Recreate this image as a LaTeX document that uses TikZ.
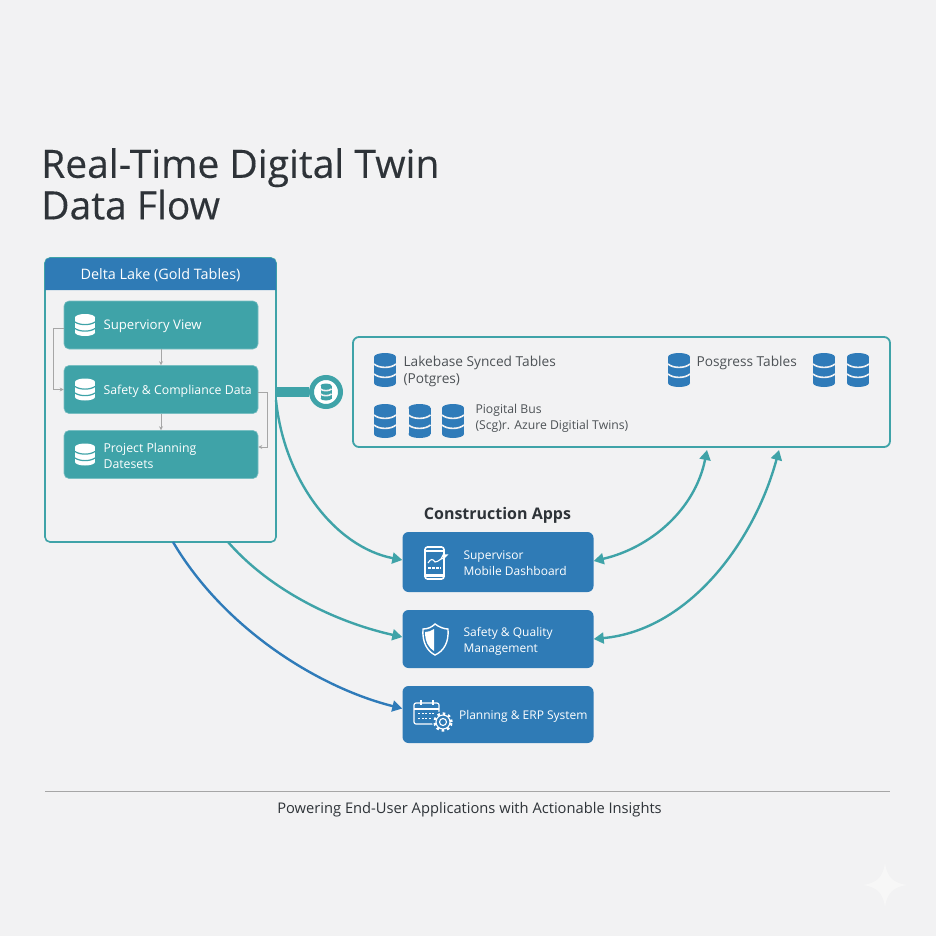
\documentclass[tikz,border=0pt]{standalone}
\usepackage{fontspec}
\setmainfont{Open Sans}
\usepackage{xcolor}
\usepackage{tikz}
\usetikzlibrary{arrows.meta}
\definecolor{paper}{HTML}{F2F2F3}
\definecolor{tealbox}{HTML}{3FA3A8}
\definecolor{tealline}{HTML}{3FA3A8}
\definecolor{bluebox}{HTML}{2F7BB6}
\definecolor{blueicon}{HTML}{2F7BB9}
\definecolor{inkdark}{HTML}{2E3338}
\tikzset{
  tablebox/.style={fill=tealbox, draw=tealbox!70!white, line width=0.6pt, rounded corners=5pt, minimum width=194pt, minimum height=48pt},
  appbox/.style={fill=bluebox, rounded corners=6pt, minimum width=191pt},
  boxtext/.style={text=white, anchor=west, align=left, font=\fontsize{12.3}{16}\selectfont},
  lakelabel/.style={text=inkdark!85!white, anchor=west, align=left, font=\fontsize{13.7}{17}\selectfont},
  smallflow/.style={draw=black!35, line width=0.6pt, -{Stealth[length=4pt,width=4pt]}},
  flowline/.style={draw=tealline, line width=2.4pt, -{Triangle[length=10pt,width=11pt]}},
  twoway/.style={draw=tealline, line width=2.4pt, {Triangle[length=10pt,width=11pt]}-{Triangle[length=10pt,width=11pt]}},
  pics/dbstack/.style={code={
    \fill[#1] (-11,-13) rectangle (11,13);
    \fill[#1] (0,-13) ellipse (11 and 4);
    \fill[#1] (0,13) ellipse (11 and 4);
    \draw[paper, line width=1.6pt] (-11,-6) .. controls (-6,-1.5) and (6,-1.5) .. (11,-6);
    \draw[paper, line width=1.6pt] (-11,4) .. controls (-6,8.5) and (6,8.5) .. (11,4);
  }},
  pics/dbsmall/.style={code={
    \fill[white] (-10,-7.5) rectangle (10,7.5);
    \fill[white] (0,-7.5) ellipse (10 and 3.5);
    \fill[white] (0,7.5) ellipse (10 and 3.5);
    \draw[tealbox, line width=1.2pt] (-10,-3) .. controls (-5,0.5) and (5,0.5) .. (10,-3);
    \draw[tealbox, line width=1.2pt] (-10,3.5) .. controls (-5,7) and (5,7) .. (10,3.5);
  }}
}
\begin{document}
\begin{tikzpicture}[x=1pt, y=-1pt]
  \useasboundingbox (0,0) rectangle (936,936);
  \fill[paper] (0,0) rectangle (936,936);

  % title
  \node[anchor=north west, align=left, text=inkdark, inner sep=0pt, font=\addfontfeature{FakeBold=0.25}\fontsize{39}{41.5}\selectfont] (title) at (41,148) {Real-Time Digital Twin\\Data Flow};

  % gold tables
  \node[draw=tealline, line width=1.6pt, fill=paper, rounded corners=5pt, minimum width=231pt, minimum height=284pt] (deltalake) at (160.5,400) {};
  \fill[bluebox] (45,290) [rounded corners=5pt] -- (45,258) -- (276,258) [sharp corners] -- (276,290) -- cycle;
  \node[text=white, font=\fontsize{14.4}{16}\selectfont] (deltahead) at (160.5,275) {Delta Lake (Gold Tables)};

  \node[tablebox] (supview) at (161,325) {};
  \node[tablebox] (safety) at (161,389.5) {};
  \node[tablebox] (planning) at (161,454.5) {};
  \pic at (85,325) {dbsmall};
  \pic at (85,389.5) {dbsmall};
  \pic at (85,454.5) {dbsmall};
  \node[boxtext, font=\fontsize{13.2}{16}\selectfont] (supviewtext) at (100,326) {Superviory View};
  \node[boxtext] (safetytext) at (100,391) {Safety \& Compliance Data};
  \node[boxtext] (planningtext) at (100,456) {Project Planning\\Datesets};

  \draw[smallflow] (supview) -- (safety);
  \draw[smallflow] (safety) -- (planning);
  \draw[smallflow] ([yshift=-3pt]supview.west) -- ++(-10,0) |- (safety.west);
  \draw[smallflow] ([yshift=-2.5pt]safety.east) -- ++(9,0) |- ([yshift=7.5pt]planning.east);

  % lakebase
  \node[draw=tealline, line width=1.8pt, fill=paper, rounded corners=6pt, minimum width=537pt, minimum height=110pt] (lakebase) at (621.5,392) {};
  \pic at (385,370) {dbstack={blueicon}};
  \pic at (679,370) {dbstack={blueicon}};
  \pic at (824,370) {dbstack={blueicon}};
  \pic at (858,370) {dbstack={blueicon}};
  \pic at (385,421) {dbstack={blueicon}};
  \pic at (419.5,421) {dbstack={blueicon}};
  \pic at (453,421) {dbstack={blueicon}};
  \node[lakelabel] (syncedtext) at (400,371.5) {Lakebase Synced Tables\\(Potgres)};
  \node[lakelabel] (posgresstext) at (693,363) {Posgress Tables};
  \node[lakelabel, font=\fontsize{12.2}{16}\selectfont] (bustext) at (472,418) {Piogital Bus\\(Scg)r. Azure Digitial Twins)};

  % link between the two stores
  \node[circle, fill=white, draw=tealline, line width=5pt, minimum size=29pt, inner sep=0pt] (linkdot) at (326,392) {};
  \pic[scale=0.5] at (326,392) {dbstack={tealline}};
  \draw[tealline, line width=10pt] (deltalake.east |- linkdot) -- (linkdot.west);

  % apps
  \node[font=\bfseries\fontsize{16}{20}\selectfont, text=inkdark] (appstitle) at (497.5,515) {Construction Apps};
  \node[appbox, minimum height=60pt] (mobile) at (498,562) {};
  \node[appbox, minimum height=58pt] (quality) at (498,639) {};
  \node[appbox, minimum height=57pt] (erp) at (498,714.5) {};
  \node[boxtext, font=\fontsize{12}{16}\selectfont] (mobiletext) at (460,563.5) {Supervisor\\Mobile Dashboard};
  \node[boxtext, font=\fontsize{12}{16}\selectfont] (qualitytext) at (460,641) {Safety \& Quality\\Management};
  \node[boxtext, font=\fontsize{12}{16}\selectfont] (erptext) at (455.5,716) {Planning \& ERP System};

  % phone
  \draw[white, line width=1.6pt, rounded corners=2.5pt] (425,547) rectangle (444,579);
  \draw[white, line width=1.4pt] (425,551) -- (444,551);
  \draw[white, line width=2.4pt] (425,575.5) -- (444,575.5);
  \draw[white, line width=1.1pt] (428,563) .. controls (431,558) and (433,559) .. (435,562) .. controls (437,563) and (438,560) .. (441,559);
  \draw[white, line width=1.1pt] (441,559) -- (444,558) -- (447,555) -- (443,555) -- cycle;
  \draw[white, line width=1.2pt, dash pattern=on 3pt off 1pt] (428,568) -- (441,568);

  % shield
  \fill[white] (434,629) .. controls (431,631) and (428,632) .. (425,632) .. controls (425,642) and (429,648) .. (434,651) -- cycle;
  \draw[white, line width=1.4pt] (435,624) .. controls (439,627) and (444,629) .. (448,629) .. controls (449,642) and (444,651) .. (435,655) .. controls (427,651) and (422,642) .. (423,629) .. controls (428,629) and (432,627) .. (435,624) -- cycle;

  % calendar and gear
  \draw[white, line width=1.2pt, rounded corners=2pt] (414,703) rectangle (439,724);
  \draw[white, line width=1.2pt] (414,709) -- (439,709);
  \draw[white, line width=1.4pt] (421,700) -- (421,705);
  \draw[white, line width=1.4pt] (433,700) -- (433,705);
  \draw[white, line width=1.8pt, dash pattern=on 2pt off 1.6pt] (418,713.5) -- (435,713.5);
  \draw[white, line width=1.8pt, dash pattern=on 2pt off 1.6pt] (418,718.5) -- (432,718.5);
  \fill[bluebox] (443,722) circle (11pt);
  \draw[white, line width=1.1pt] (443,722) circle (7pt);
  \draw[white, line width=1.1pt] (443,722) circle (3.5pt);
  \draw[white, line width=2.4pt, dash pattern=on 2.5pt off 3pt] (443,722) circle (8.5pt);

  % connectors
  \coordinate (lakeside) at (276,400);
  \coordinate (laketapa) at (228,542);
  \coordinate (laketapb) at (173,542);
  \coordinate (stopa) at (707,450);
  \coordinate (stopb) at (779,450);
  \draw[flowline] (lakeside) .. controls (284,480) and (335,547) .. ([yshift=2pt]mobile.west);
  \draw[flowline] (laketapa) .. controls (270,590) and (335,622) .. ([yshift=2pt]quality.west);
  \draw[flowline, draw=blueicon] (laketapb) .. controls (225,630) and (320,688) .. ([yshift=6pt]erp.west);
  \draw[twoway] ([yshift=1pt]mobile.east) .. controls (650,548) and (695,510) .. (stopa);
  \draw[twoway] (quality.east) .. controls (690,630) and (755,540) .. (stopb);

  % footer
  \coordinate (rulestart) at (45,791);
  \coordinate (ruleend) at (890,791);
  \draw[black!35, line width=1pt] (rulestart) -- (ruleend);
  \node[text=inkdark, font=\fontsize{14.7}{17}\selectfont] (footertext) at (469.5,810) {Powering End-User Applications with Actionable Insights};

  % sparkle
  \fill[white!35!paper] (885,863) .. controls (887,877) and (893,883) .. (907,885) .. controls (893,887) and (887,893) .. (885,907) .. controls (883,893) and (877,887) .. (863,885) .. controls (877,883) and (883,877) .. (885,863) -- cycle;
\end{tikzpicture}
\end{document}
